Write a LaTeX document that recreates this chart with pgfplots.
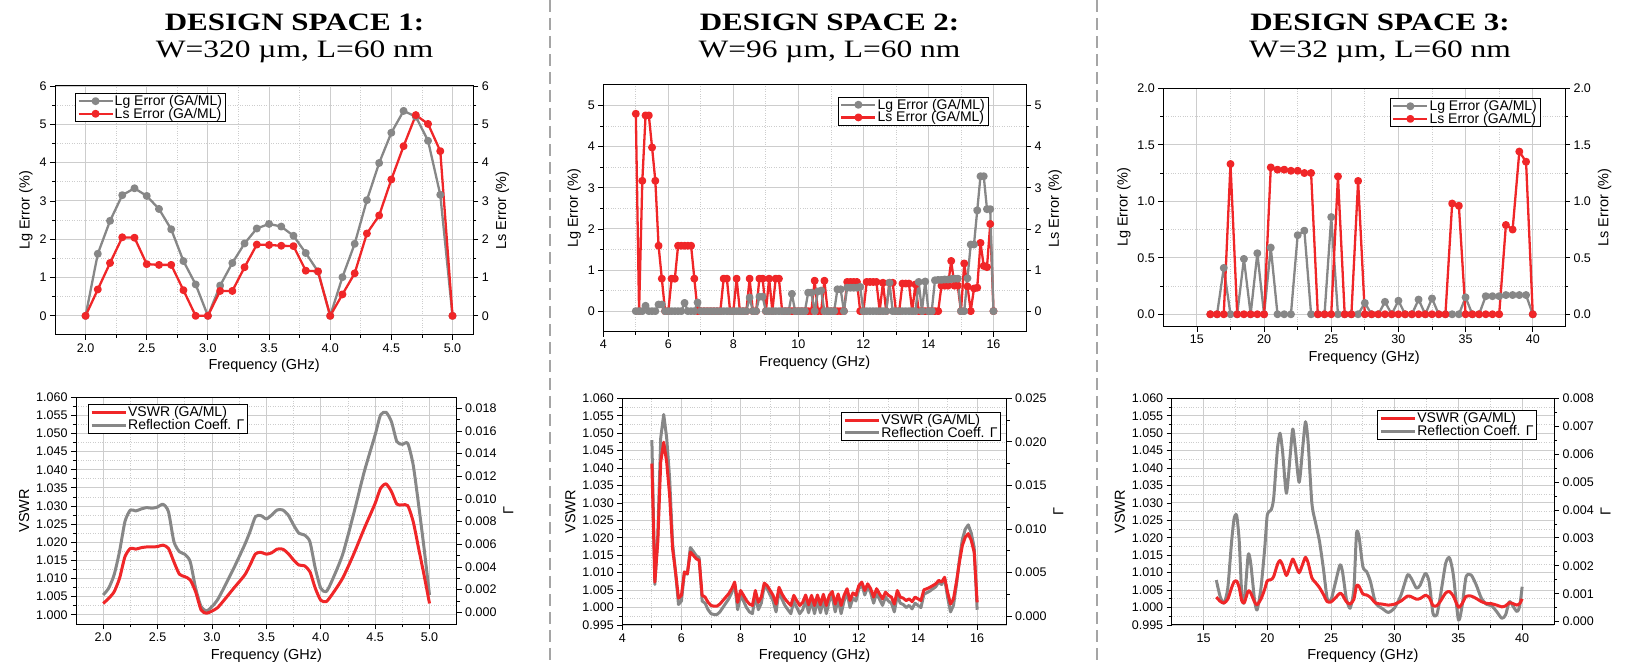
\documentclass[border=0pt]{standalone}
\usepackage{fontspec}
\setmainfont{Liberation Sans}
\newfontfamily\titlefont{Liberation Serif}
\usepackage{graphicx}
\usepackage{pgfplots}
\usepackage{pgfplotstable}
\pgfplotsset{compat=1.18}

\definecolor{myred}{RGB}{240,38,40}
\definecolor{mygray}{RGB}{135,135,135}
\definecolor{gridgray}{RGB}{205,205,205}
\definecolor{sepgray}{RGB}{165,165,165}

\pgfplotstableread{
x lg ls
2.0 0 0
2.1 1.62 0.69
2.2 2.48 1.38
2.3 3.15 2.05
2.4 3.33 2.04
2.5 3.13 1.35
2.6 2.79 1.33
2.7 2.26 1.33
2.8 1.43 0.67
2.9 0.82 0
3.0 0 0
3.1 0.79 0.65
3.2 1.38 0.65
3.3 1.89 1.27
3.4 2.28 1.86
3.5 2.40 1.85
3.6 2.33 1.83
3.7 2.09 1.82
3.8 1.64 1.18
3.9 1.16 1.16
4.0 0 0
4.1 1.01 0.56
4.2 1.88 1.11
4.3 3.02 2.15
4.4 3.99 2.62
4.5 4.78 3.56
4.6 5.35 4.43
4.7 5.20 5.24
4.8 4.57 5.01
4.9 3.16 4.30
5.0 0 0
}\dataA

\pgfplotstableread{
x lg ls
5.0 0 4.80
5.1 0 0
5.2 0 3.17
5.3 0.13 4.76
5.4 0 4.76
5.5 0 3.98
5.6 0 3.17
5.7 0.16 1.59
5.8 0.16 0.79
5.9 0 0
6.0 0 0
6.1 0 0.79
6.2 0 0.79
6.3 0 1.59
6.4 0 1.59
6.5 0.20 1.59
6.6 0 1.59
6.7 0 1.59
6.8 0 0.79
6.9 0.21 0
7.0 0 0
7.1 0 0
7.2 0 0
7.3 0 0
7.4 0 0
7.5 0 0
7.6 0 0
7.7 0 0.79
7.8 0 0.79
7.9 0 0
8.0 0 0
8.1 0 0.79
8.2 0 0
8.3 0 0
8.4 0 0
8.5 0.33 0.79
8.6 0 0
8.7 0 0
8.8 0.35 0.79
8.9 0.35 0.79
9.0 0 0
9.1 0 0.79
9.2 0 0
9.3 0 0.79
9.4 0 0.79
9.5 0 0
9.6 0 0
9.7 0 0
9.8 0.42 0
9.9 0 0
10.0 0 0
10.1 0 0
10.2 0 0
10.3 0.45 0
10.4 0.45 0
10.5 0 0.74
10.6 0.48 0
10.7 0.50 0
10.8 0 0.74
10.9 0 0
11.0 0 0
11.1 0 0
11.2 0.53 0
11.3 0.53 0
11.4 0 0
11.5 0.57 0.71
11.6 0.57 0.71
11.7 0.57 0.71
11.8 0.57 0.71
11.9 0.59 0
12.0 0 0
12.1 0 0.71
12.2 0 0.71
12.3 0 0.71
12.4 0 0.71
12.5 0 0
12.6 0 0.69
12.7 0 0
12.8 0.69 0.69
12.9 0 0.69
13.0 0 0
13.1 0 0
13.2 0 0.67
13.3 0 0.67
13.4 0 0.67
13.5 0 0
13.6 0 0.65
13.7 0.71 0
13.8 0 0
13.9 0.72 0
14.0 0 0
14.1 0 0
14.2 0.75 0
14.3 0.76 0
14.4 0.76 0.62
14.5 0.77 0.62
14.6 0.77 0.62
14.7 0.78 1.22
14.8 0.79 0.62
14.9 0.79 0.62
15.0 0 0
15.1 0 1.16
15.2 0.80 0.60
15.3 1.62 0
15.4 1.62 0.55
15.5 2.45 0.57
15.6 3.28 1.66
15.7 3.28 1.10
15.8 2.48 1.07
15.9 2.48 2.12
16.0 0 0
}\dataB

\pgfplotstableread{
x lg ls
16.0 0 0
16.5 0 0
17.0 0.41 0
17.5 0 1.33
18.0 0 0
18.5 0.49 0
19.0 0 0
19.5 0.54 0
20.0 0 0
20.5 0.59 1.30
21.0 0 1.28
21.5 0 1.28
22.0 0 1.27
22.5 0.70 1.27
23.0 0.74 1.25
23.5 0 1.25
24.0 0 0
24.5 0 0
25.0 0.86 0
25.5 0 1.22
26.0 0 0
26.5 0 0
27.0 0 1.18
27.5 0.10 0
28.0 0 0
28.5 0 0
29.0 0.11 0
29.5 0 0
30.0 0.12 0
30.5 0 0
31.0 0 0
31.5 0.13 0
32.0 0 0
32.5 0.14 0
33.0 0 0
33.5 0 0
34.0 0 0.98
34.5 0 0.96
35.0 0.15 0
35.5 0 0
36.0 0 0
36.5 0.16 0
37.0 0.16 0
37.5 0.16 0
38.0 0.17 0.79
38.5 0.17 0.75
39.0 0.17 1.44
39.5 0.17 1.35
40.0 0 0
}\dataC

\pgfplotstableread{
x v g
2.00 1.0031 0.00153
2.05 1.0045 0.00212
2.10 1.0063 0.00329
2.15 1.0100 0.00535
2.20 1.0160 0.00800
2.25 1.0183 0.00903
2.30 1.0181 0.00894
2.35 1.0185 0.00912
2.40 1.0187 0.00924
2.45 1.0187 0.00918
2.50 1.0188 0.00929
2.55 1.0192 0.00953
2.60 1.0183 0.00888
2.65 1.0146 0.00624
2.70 1.0112 0.00535
2.75 1.0105 0.00512
2.80 1.0096 0.00447
2.85 1.0063 0.00212
2.90 1.0013 0.00050
2.95 1.0004 0.00012
3.00 1.0010 0.00050
3.05 1.0019 0.00109
3.10 1.0036 0.00197
3.20 1.0073 0.00388
3.30 1.0109 0.00594
3.35 1.0137 0.00712
3.40 1.0168 0.00844
3.45 1.0172 0.00853
3.50 1.0167 0.00824
3.55 1.0171 0.00859
3.60 1.0181 0.00903
3.65 1.0181 0.00903
3.70 1.0169 0.00859
3.75 1.0151 0.00771
3.80 1.0137 0.00697
3.85 1.0135 0.00682
3.90 1.0119 0.00624
3.95 1.0073 0.00388
4.00 1.0040 0.00212
4.05 1.0036 0.00182
4.10 1.0054 0.00271
4.20 1.0100 0.00506
4.30 1.0165 0.00859
4.40 1.0238 0.01240
4.50 1.0307 0.01565
4.55 1.0349 0.01741
4.60 1.0361 0.01765
4.65 1.0340 0.01682
4.70 1.0305 0.01506
4.75 1.0303 0.01482
4.80 1.0301 0.01491
4.85 1.0257 0.01300
4.90 1.0183 0.00947
4.95 1.0109 0.00565
5.00 1.0031 0.00153
}\dataD

\pgfplotstableread{
x v g
5.0 1.0413 0.02020
5.1 1.0073 0.00364
5.2 1.0188 0.00931
5.3 1.0418 0.02047
5.4 1.0474 0.02314
5.5 1.0418 0.02047
5.6 1.0322 0.01584
5.7 1.0169 0.00838
5.8 1.0102 0.00507
5.9 1.0027 0.00135
6.0 1.0035 0.00175
6.1 1.0102 0.00507
6.2 1.0097 0.00483
6.3 1.0159 0.00789
6.4 1.0150 0.00744
6.5 1.0140 0.00695
6.6 1.0135 0.00671
6.7 1.0035 0.00175
6.8 1.0030 0.00150
6.9 1.0015 0.00075
7.0 1.0006 0.00030
7.1 1.0004 0.00020
7.2 1.0004 0.00020
7.3 1.0010 0.00050
7.4 1.0020 0.00100
7.5 1.0030 0.00150
7.6 1.0040 0.00200
7.7 1.0054 0.00270
7.8 1.0073 0.00364
7.9 1.0015 0.00075
8.0 1.0049 0.00244
8.1 1.0035 0.00175
8.2 1.0020 0.00100
8.3 1.0010 0.00050
8.4 1.0006 0.00030
8.5 1.0049 0.00244
8.6 1.0015 0.00075
8.7 1.0030 0.00150
8.8 1.0070 0.00349
8.9 1.0063 0.00314
9.0 1.0049 0.00244
9.1 1.0035 0.00175
9.2 1.0010 0.00050
9.3 1.0058 0.00289
9.4 1.0039 0.00195
9.5 1.0025 0.00125
9.6 1.0015 0.00075
9.7 1.0006 0.00030
9.8 1.0035 0.00175
9.9 1.0020 0.00100
10.0 1.0006 0.00030
10.1 1.0015 0.00075
10.2 1.0036 0.00180
10.3 1.0008 0.00040
10.4 1.0035 0.00175
10.5 1.0006 0.00030
10.6 1.0036 0.00180
10.7 1.0008 0.00040
10.8 1.0038 0.00190
10.9 1.0006 0.00030
11.0 1.0035 0.00175
11.1 1.0046 0.00230
11.2 1.0010 0.00050
11.3 1.0039 0.00195
11.4 1.0006 0.00030
11.5 1.0035 0.00175
11.6 1.0054 0.00270
11.7 1.0020 0.00100
11.8 1.0042 0.00210
11.9 1.0035 0.00175
12.0 1.0063 0.00314
12.1 1.0073 0.00364
12.2 1.0049 0.00244
12.3 1.0068 0.00339
12.4 1.0054 0.00270
12.5 1.0030 0.00150
12.6 1.0054 0.00270
12.7 1.0039 0.00195
12.8 1.0025 0.00125
12.9 1.0044 0.00220
13.0 1.0035 0.00175
13.1 1.0030 0.00150
13.2 1.0010 0.00050
13.3 1.0049 0.00244
13.4 1.0030 0.00150
13.5 1.0027 0.00135
13.6 1.0020 0.00100
13.7 1.0025 0.00125
13.8 1.0017 0.00085
13.9 1.0030 0.00150
14.0 1.0025 0.00125
14.1 1.0020 0.00100
14.2 1.0051 0.00254
14.3 1.0054 0.00270
14.4 1.0058 0.00289
14.5 1.0063 0.00314
14.6 1.0068 0.00339
14.7 1.0078 0.00389
14.8 1.0073 0.00364
14.9 1.0087 0.00433
15.0 1.0044 0.00220
15.1 1.0010 0.00050
15.2 1.0025 0.00125
15.3 1.0073 0.00364
15.4 1.0130 0.00646
15.5 1.0178 0.00882
15.6 1.0202 0.01000
15.7 1.0212 0.01049
15.8 1.0193 0.00956
15.9 1.0159 0.00789
16.0 1.0015 0.00075
}\dataE

\pgfplotstableread{
x v g
16.0 1.0030 0.00149
16.3 1.0018 0.00090
16.6 1.0013 0.00066
16.9 1.0024 0.00120
17.2 1.0057 0.00287
17.4 1.0074 0.00370
17.6 1.0076 0.00380
17.8 1.0057 0.00287
18.0 1.0019 0.00096
18.2 1.0014 0.00072
18.5 1.0048 0.00239
18.7 1.0042 0.00209
19.0 1.0016 0.00078
19.2 1.0008 0.00042
19.5 1.0024 0.00119
19.8 1.0053 0.00263
20.0 1.0077 0.00382
20.3 1.0080 0.00400
20.5 1.0089 0.00442
20.8 1.0124 0.00621
21.0 1.0135 0.00675
21.2 1.0122 0.00609
21.5 1.0092 0.00460
21.8 1.0120 0.00597
22.0 1.0139 0.00690
22.2 1.0124 0.00621
22.5 1.0100 0.00499
22.8 1.0127 0.00633
23.0 1.0144 0.00716
23.2 1.0129 0.00645
23.5 1.0085 0.00424
23.8 1.0071 0.00352
24.1 1.0057 0.00287
24.4 1.0038 0.00191
24.7 1.0017 0.00084
25.0 1.0016 0.00078
25.3 1.0026 0.00131
25.7 1.0041 0.00203
25.9 1.0036 0.00179
26.2 1.0017 0.00084
26.5 1.0010 0.00048
26.8 1.0024 0.00119
27.0 1.0063 0.00316
27.2 1.0061 0.00304
27.5 1.0039 0.00197
27.8 1.0036 0.00179
28.1 1.0029 0.00143
28.5 1.0013 0.00066
29.0 1.0010 0.00048
29.5 1.0007 0.00033
30.0 1.0010 0.00050
30.5 1.0019 0.00096
31.0 1.0033 0.00167
31.3 1.0031 0.00155
31.7 1.0024 0.00120
32.0 1.0026 0.00131
32.4 1.0035 0.00173
32.7 1.0029 0.00143
33.0 1.0006 0.00030
33.3 1.0005 0.00024
33.6 1.0019 0.00096
34.0 1.0042 0.00209
34.3 1.0046 0.00229
34.6 1.0033 0.00167
35.0 1.0001 0.00006
35.3 1.0012 0.00060
35.6 1.0032 0.00161
36.0 1.0033 0.00167
36.4 1.0026 0.00131
36.8 1.0017 0.00084
37.2 1.0012 0.00062
37.6 1.0011 0.00057
38.0 1.0007 0.00036
38.4 1.0002 0.00012
38.7 1.0005 0.00024
39.0 1.0014 0.00072
39.3 1.0011 0.00054
39.6 1.0007 0.00036
39.8 1.0011 0.00054
40.0 1.0025 0.00125
}\dataF

\pgfplotsset{
  base/.style={
    scale only axis, anchor=south west,
    tick align=outside,
    major tick length=5pt, minor tick length=3pt,
    every tick/.append style={black, line width=0.8pt},
    axis line style={line width=1pt},
    tick label style={font=\fontsize{12.5}{14}\selectfont},
    every axis label/.append style={font=\fontsize{14.5}{16}\selectfont},
    scaled ticks=false,
    /pgf/number format/assume math mode=true,
    legend cell align=left,
    legend style={font=\fontsize{14}{15}\selectfont, draw=black, line width=0.7pt,
      inner xsep=2pt, inner ysep=1pt, nodes={inner sep=1pt}, row sep=-1pt},
  },
  gridded/.style={grid=both,
    major grid style={draw=gridgray, line width=0.9pt},
    minor grid style={draw=gridgray, dotted, line width=0.8pt}},
  markleg/.style={legend image code/.code={\draw[mark repeat=2,mark phase=2] plot coordinates {(0pt,0pt)(17pt,0pt)(34pt,0pt)};}},
  lineleg/.style={legend image code/.code={\draw (0pt,0pt) -- (34pt,0pt);}},
  lgs/.style={color=mygray, line width=2.3pt, line join=round, mark=*, mark size=2.8pt, mark options={solid}},
  lss/.style={color=myred, line width=2.3pt, line join=round, mark=*, mark size=2.8pt, mark options={solid}},
  vs/.style={color=myred, line width=3pt, line join=round},
  gs/.style={color=mygray, line width=3pt, line join=round},
  onedec/.style={/pgf/number format/.cd, fixed, fixed zerofill, precision=1},
  threedec/.style={/pgf/number format/.cd, fixed, fixed zerofill, precision=3},
}

\begin{document}
\begin{tikzpicture}[x=1pt,y=1pt]
\useasboundingbox (0,0) rectangle (1632,666);

% separators
\draw[sepgray, line width=2.5pt, dash pattern=on 12pt off 6pt] (550,666) -- (550,0);
\draw[sepgray, line width=2.5pt, dash pattern=on 12pt off 6pt] (1097,666) -- (1097,0);

% titles
\node[anchor=base, font=\titlefont\bfseries\fontsize{25}{30}\selectfont] at (294.6,635) {\scalebox{1.24}[1]{DESIGN SPACE 1:}};
\node[anchor=base, font=\titlefont\fontsize{25}{30}\selectfont] at (294.6,608) {\scalebox{1.26}[1]{W=320 µm, L=60 nm}};
\node[anchor=base, font=\titlefont\bfseries\fontsize{25}{30}\selectfont] at (829.5,635) {\scalebox{1.24}[1]{DESIGN SPACE 2:}};
\node[anchor=base, font=\titlefont\fontsize{25}{30}\selectfont] at (829.5,608) {\scalebox{1.26}[1]{W=96 µm, L=60 nm}};
\node[anchor=base, font=\titlefont\bfseries\fontsize{25}{30}\selectfont] at (1380,635) {\scalebox{1.24}[1]{DESIGN SPACE 3:}};
\node[anchor=base, font=\titlefont\fontsize{25}{30}\selectfont] at (1380,608) {\scalebox{1.26}[1]{W=32 µm, L=60 nm}};

% ===== Panel 1 top =====
\begin{axis}[base, gridded, markleg, at={(55pt,331pt)}, width=418.3pt, height=249pt,
  xmin=1.75, xmax=5.17, ymin=-0.5, ymax=6,
  xtick={2,2.5,3,3.5,4,4.5,5}, minor x tick num=1,
  ytick={0,1,2,3,4,5,6}, minor y tick num=1,
  xtick pos=left, ytick pos=left,
  xticklabel style={onedec},
  xlabel={Frequency (GHz)}, ylabel={Lg Error (\%)},
  legend style={at={(0.048,0.972)}, anchor=north west}]
\addplot[lgs] table[x=x,y=lg] {\dataA}; \addlegendentry{Lg Error (GA/ML)}
\addplot[lss] table[x=x,y=ls] {\dataA}; \addlegendentry{Ls Error (GA/ML)}
\end{axis}
\begin{axis}[base, at={(55pt,331pt)}, width=418.3pt, height=249pt,
  xmin=1.75, xmax=5.17, ymin=-0.5, ymax=6,
  axis y line*=right, axis x line=none,
  ytick={0,1,2,3,4,5,6}, minor y tick num=1, ylabel={Ls Error (\%)}]
\addplot[draw=none] coordinates {(3,0)};
\end{axis}

% ===== Panel 2 top =====
\begin{axis}[base, gridded, markleg, at={(603.3pt,334.3pt)}, width=422.7pt, height=246.7pt,
  xmin=4, xmax=17, ymin=-0.5, ymax=5.5,
  xtick={4,6,8,10,12,14,16}, minor x tick num=1,
  ytick={0,1,2,3,4,5}, minor y tick num=1,
  xtick pos=left, ytick pos=left,
  xlabel={Frequency (GHz)}, ylabel={Lg Error (\%)},
  legend style={at={(0.555,0.953)}, anchor=north west}]
\addlegendimage{lgs} \addlegendentry{Lg Error (GA/ML)}
\addplot[lss] table[x=x,y=ls] {\dataB}; \addlegendentry{Ls Error (GA/ML)}
\addplot[lgs, forget plot] table[x=x,y=lg] {\dataB};
\end{axis}
\begin{axis}[base, at={(603.3pt,334.3pt)}, width=422.7pt, height=246.7pt,
  xmin=4, xmax=17, ymin=-0.5, ymax=5.5,
  axis y line*=right, axis x line=none,
  ytick={0,1,2,3,4,5}, minor y tick num=1, ylabel={Ls Error (\%)}]
\addplot[draw=none] coordinates {(10,0)};
\end{axis}

% ===== Panel 3 top =====
\begin{axis}[base, gridded, markleg, at={(1163.3pt,339.3pt)}, width=401.7pt, height=238.4pt,
  xmin=12.5, xmax=42.4, ymin=-0.11, ymax=2.0,
  xtick={15,20,25,30,35,40}, minor x tick num=1,
  ytick={0,0.5,1,1.5,2}, minor y tick num=1,
  xtick pos=left, ytick pos=left,
  yticklabel style={onedec},
  xlabel={Frequency (GHz)}, ylabel={Lg Error (\%)},
  legend style={at={(0.564,0.959)}, anchor=north west}]
\addplot[lgs] table[x=x,y=lg] {\dataC}; \addlegendentry{Lg Error (GA/ML)}
\addplot[lss] table[x=x,y=ls] {\dataC}; \addlegendentry{Ls Error (GA/ML)}
\end{axis}
\begin{axis}[base, at={(1163.3pt,339.3pt)}, width=401.7pt, height=238.4pt,
  xmin=12.5, xmax=42.4, ymin=-0.11, ymax=2.0,
  axis y line*=right, axis x line=none,
  ytick={0,0.5,1,1.5,2}, minor y tick num=1, yticklabel style={onedec},
  ylabel={Ls Error (\%)}]
\addplot[draw=none] coordinates {(20,0)};
\end{axis}

% ===== Panel 1 bottom =====
\begin{axis}[base, gridded, at={(76pt,41.7pt)}, width=380.7pt, height=227pt,
  xmin=1.75, xmax=5.25, ymin=0.99735, ymax=1.06,
  xtick={2,2.5,3,3.5,4,4.5,5}, minor x tick num=1,
  ytick={1.000,1.005,1.010,1.015,1.020,1.025,1.030,1.035,1.040,1.045,1.050,1.055,1.060}, minor y tick num=1,
  xtick pos=left, ytick pos=left,
  xticklabel style={onedec}, yticklabel style={threedec},
  xlabel={Frequency (GHz)}, ylabel={VSWR}]
\addplot[draw=none] coordinates {(3,1.01)};
\end{axis}
\begin{axis}[base, at={(76pt,41.7pt)}, width=380.7pt, height=227pt,
  xmin=1.75, xmax=5.25, ymin=-0.00106, ymax=0.01897,
  axis y line*=right, axis x line=none,
  ytick={0,0.002,0.004,0.006,0.008,0.010,0.012,0.014,0.016,0.018}, minor y tick num=1,
  yticklabel style={threedec}, ylabel={Γ}]
\addplot[gs, smooth, tension=0.4] table[x=x,y=g] {\dataD};
\end{axis}
\begin{axis}[base, lineleg, hide axis, at={(76pt,41.7pt)}, width=380.7pt, height=227pt,
  xmin=1.75, xmax=5.25, ymin=0.99735, ymax=1.06,
  legend style={at={(0.031,0.969)}, anchor=north west}]
\addplot[vs, smooth, tension=0.4] table[x=x,y=v] {\dataD}; \addlegendentry{VSWR (GA/ML)}
\addlegendimage{gs} \addlegendentry{Reflection Coeff. Γ}
\end{axis}

% ===== Panel 2 bottom =====
\begin{axis}[base, gridded, at={(622.3pt,41pt)}, width=384.4pt, height=226.7pt,
  xmin=4, xmax=17, ymin=0.995, ymax=1.06,
  xtick={4,6,8,10,12,14,16}, minor x tick num=1,
  ytick={0.995,1.000,1.005,1.010,1.015,1.020,1.025,1.030,1.035,1.040,1.045,1.050,1.055,1.060}, minor y tick num=1,
  xtick pos=left, ytick pos=left,
  yticklabel style={threedec},
  xlabel={Frequency (GHz)}, ylabel={VSWR}]
\addplot[draw=none] coordinates {(10,1.01)};
\end{axis}
\begin{axis}[base, at={(622.3pt,41pt)}, width=384.4pt, height=226.7pt,
  xmin=4, xmax=17, ymin=-0.001, ymax=0.025,
  axis y line*=right, axis x line=none,
  ytick={0,0.005,0.010,0.015,0.020,0.025}, minor y tick num=1,
  yticklabel style={threedec}, ylabel={Γ}]
\addplot[gs] table[x=x,y=g] {\dataE};
\end{axis}
\begin{axis}[base, lineleg, hide axis, at={(622.3pt,41pt)}, width=384.4pt, height=226.7pt,
  xmin=4, xmax=17, ymin=0.995, ymax=1.06,
  legend style={at={(0.569,0.94)}, anchor=north west}]
\addplot[vs] table[x=x,y=v] {\dataE}; \addlegendentry{VSWR (GA/ML)}
\addlegendimage{gs} \addlegendentry{Reflection Coeff. Γ}
\end{axis}

% ===== Panel 3 bottom =====
\begin{axis}[base, gridded, at={(1171.7pt,41pt)}, width=382.3pt, height=226.7pt,
  xmin=12.5, xmax=42.5, ymin=0.995, ymax=1.06,
  xtick={15,20,25,30,35,40}, minor x tick num=1,
  ytick={0.995,1.000,1.005,1.010,1.015,1.020,1.025,1.030,1.035,1.040,1.045,1.050,1.055,1.060}, minor y tick num=1,
  xtick pos=left, ytick pos=left,
  yticklabel style={threedec},
  xlabel={Frequency (GHz)}, ylabel={VSWR}]
\addplot[draw=none] coordinates {(20,1.01)};
\end{axis}
\begin{axis}[base, at={(1171.7pt,41pt)}, width=382.3pt, height=226.7pt,
  xmin=12.5, xmax=42.5, ymin=-0.00012, ymax=0.008,
  axis y line*=right, axis x line=none,
  ytick={0,0.001,0.002,0.003,0.004,0.005,0.006,0.007,0.008}, minor y tick num=1,
  yticklabel style={threedec}, ylabel={Γ}]
\addplot[gs, smooth, tension=0.4] table[x=x,y=g] {\dataF};
\end{axis}
\begin{axis}[base, lineleg, hide axis, at={(1171.7pt,41pt)}, width=382.3pt, height=226.7pt,
  xmin=12.5, xmax=42.5, ymin=0.995, ymax=1.06,
  legend style={at={(0.537,0.947)}, anchor=north west}]
\addplot[vs, smooth, tension=0.4] table[x=x,y=v] {\dataF}; \addlegendentry{VSWR (GA/ML)}
\addlegendimage{gs} \addlegendentry{Reflection Coeff. Γ}
\end{axis}

\end{tikzpicture}
\end{document}
